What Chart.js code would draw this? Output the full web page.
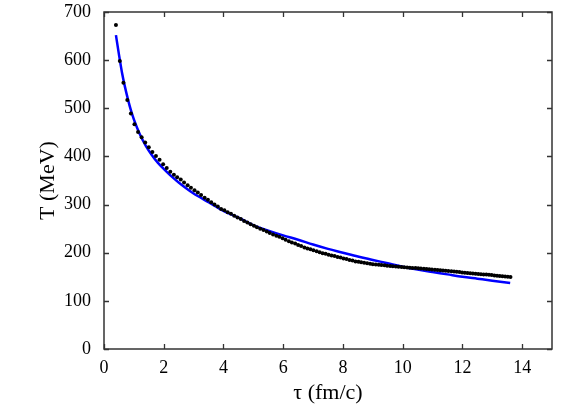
<!DOCTYPE html>
<html>
<head>
<meta charset="utf-8">
<script src="https://cdn.jsdelivr.net/npm/chart.js@4"></script>
<style>
  html, body { margin: 0; padding: 0; background: #fff; }
  #wrap { width: 581px; height: 407px; }
</style>
</head>
<body>
<div id="wrap"><canvas id="c" width="581" height="407"></canvas></div>
<script>
// ---- data ----
const dotTau = [0.40,0.53,0.65,0.78,0.90,1.02,1.14,1.26,1.38,1.50,1.62,1.74,1.86,1.98,2.10,2.22,2.34,2.45,2.57,2.68,2.80,2.91,3.03,3.14,3.25,3.37,3.48,3.59,3.70,3.81,3.92,4.03,4.14,4.25,4.36,4.47,4.58,4.69,4.80,4.91,5.02,5.12,5.23,5.34,5.45,5.55,5.66,5.77,5.87,5.98,6.08,6.19,6.29,6.40,6.50,6.60,6.71,6.81,6.91,7.01,7.12,7.22,7.32,7.42,7.52,7.62,7.72,7.82,7.92,8.02,8.12,8.22,8.32,8.42,8.52,8.61,8.71,8.81,8.91,9.00,9.10,9.20,9.29,9.39,9.48,9.58,9.67,9.77,9.86,9.96,10.05,10.15,10.24,10.33,10.43,10.52,10.61,10.71,10.80,10.89,10.98,11.08,11.17,11.26,11.35,11.44,11.53,11.63,11.72,11.81,11.90,11.99,12.08,12.17,12.26,12.35,12.44,12.53,12.62,12.71,12.80,12.89,12.98,13.07,13.16,13.25,13.34,13.43,13.52,13.61];
const dotT = [673,598,553,517,489,467,451,440,429,419,409,401,393,384,376,368,362,357,352,346,340,335,330,325,320,314,310,305,300,296,291,288,284,281,277,273,270,266,263,259,256,253,250,247,244,241,238,235,233,230,227,224,221,219,216,214,211,209,207,205,203,201,199,198,196,194,193,191,190,188,187,185,184,182,181,180,179,178,177,176,175.5,175,174.5,174,173,172.5,172,171.5,171,170.5,170,169.5,169,168.5,168,167.5,167,166.5,166,165.5,165,164.5,164,163.5,163,162.5,162,161.5,161,160.5,160,159,158.5,158,157.5,157,156.5,156,155.5,155,154.5,154,153.5,152.5,152,151.5,151,150.5,150,149.5];

const lineTau = [0.40,0.5,0.6,0.7,0.8,0.9,1.0,1.2,1.4,1.6,1.8,2.0,2.25,2.5,2.75,3.0,3.5,4.0,4.5,5.0,5.5,6.0,6.5,7.0,7.5,8.0,8.5,9.0,9.5,10.0,10.5,11.0,11.5,12.0,12.5,13.0,13.6];
const lineT   = [652,612,575,545,519,496,477,446,422,403,387,374,359,346,334,323,305,287,273,257,246,236,227,217,208,200,192,185,178,171,165,160,155,150,146,142,137];

const xTickValues = [0,2,4,6,8,10,12,14];
const yTickValues = [0,100,200,300,400,500,600,700];
const xTitle = 'τ (fm/c)';
const yTitle = 'T (MeV)';

// ---- chart ----
const serif = '"Liberation Serif", "DejaVu Serif", serif';
const dots = dotTau.map((t, i) => ({ x: t, y: dotT[i] }));
const curve = lineTau.map((t, i) => ({ x: t, y: lineT[i] }));

const frame = {
  id: 'frame',
  afterDatasetsDraw(chart) {
    const { ctx, chartArea: a, scales } = chart;
    ctx.save();
    ctx.strokeStyle = '#333';
    ctx.lineWidth = 1.3;
    ctx.beginPath();
    const L = 5;
    xTickValues.forEach(v => {
      const px = Math.round(scales.x.getPixelForValue(v)) + 0.5;
      ctx.moveTo(px, a.bottom); ctx.lineTo(px, a.bottom - L);
      ctx.moveTo(px, a.top); ctx.lineTo(px, a.top + L);
    });
    yTickValues.forEach(v => {
      const py = Math.round(scales.y.getPixelForValue(v)) + 0.5;
      ctx.moveTo(a.left, py); ctx.lineTo(a.left + L, py);
      ctx.moveTo(a.right, py); ctx.lineTo(a.right - L, py);
    });
    ctx.stroke();
    ctx.lineWidth = 1.5;
    ctx.strokeRect(a.left, a.top, a.right - a.left, a.bottom - a.top);
    ctx.restore();
  }
};

new Chart(document.getElementById('c'), {
  type: 'scatter',
  data: {
    datasets: [
      {
        label: 'dots',
        data: dots,
        showLine: false,
        pointRadius: 2,
        pointBackgroundColor: '#000',
        pointBorderWidth: 0,
        borderColor: '#000'
      },
      {
        label: 'fit',
        data: curve,
        showLine: true,
        pointRadius: 0,
        borderColor: '#0000ff',
        borderWidth: 2.5,
        cubicInterpolationMode: 'monotone',
        fill: false
      }
    ]
  },
  options: {
    responsive: false,
    devicePixelRatio: 1,
    animation: false,
    layout: { padding: { left: 0, top: 12, right: 29, bottom: 0 } },
    plugins: { legend: { display: false }, tooltip: { enabled: false } },
    scales: {
      x: {
        type: 'linear',
        min: 0, max: 15,
        grid: { display: false, drawTicks: false },
        border: { display: false },
        afterBuildTicks: s => { s.ticks = xTickValues.map(v => ({ value: v })); },
        afterFit: s => { s.height = 58; s.paddingLeft = 0; s.paddingRight = 0; },
        ticks: { color: '#000', padding: 8, maxRotation: 0, font: { family: serif, size: 18 } },
        title: { display: true, text: xTitle, color: '#000', font: { family: serif, size: 22 }, padding: { top: 0, bottom: 1 } }
      },
      y: {
        type: 'linear',
        min: 0, max: 700,
        grid: { display: false, drawTicks: false },
        border: { display: false },
        afterBuildTicks: s => { s.ticks = yTickValues.map(v => ({ value: v })); },
        afterFit: s => { s.width = 104; s.paddingTop = 0; s.paddingBottom = 0; },
        ticks: { color: '#000', padding: 13, font: { family: serif, size: 18 } },
        title: { display: true, text: yTitle, color: '#000', font: { family: serif, size: 22 }, padding: { top: 35, bottom: 0 } }
      }
    }
  },
  plugins: [frame]
});
</script>
</body>
</html>
